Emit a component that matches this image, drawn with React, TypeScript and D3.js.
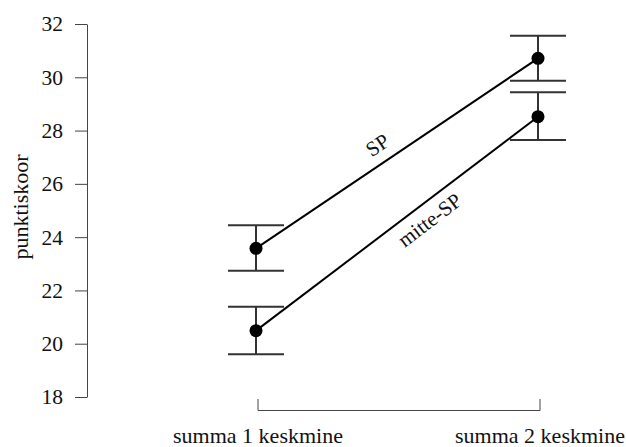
import React, { useEffect, useRef } from "react";
import * as d3 from "d3";

// categories on the x axis
const categories = ["summa 1 keskmine", "summa 2 keskmine"];
// SP series: mean and error bar bounds
const spMean = [23.58, 30.71];
const spLow = [22.74, 29.87];
const spHigh = [24.45, 31.56];
// mitte-SP series
const mitteMean = [20.49, 28.52];
const mitteLow = [19.6, 27.65];
const mitteHigh = [21.39, 29.44];
const yTicks = [18, 20, 22, 24, 26, 28, 30, 32];

const App = () => {
  const svgRef = useRef<SVGSVGElement>(null);
  const width = 626;
  const height = 447;

  useEffect(() => {
    const svg = d3.select(svgRef.current);
    svg.selectAll("*").remove();
    const font = "'Liberation Serif', 'Times New Roman', serif";

    const y = d3.scaleLinear().domain([18, 32]).range([397, 24]);
    const x = d3.scalePoint().domain(categories).range([256, 538]);

    // y axis
    const yAxis = svg.append("g").attr("transform", "translate(87,0)");
    yAxis.call(d3.axisLeft(y).tickValues(yTicks).tickSize(12).tickPadding(12).tickSizeOuter(0));
    yAxis.select(".domain").attr("stroke", "#444").attr("stroke-width", 1);
    yAxis.selectAll(".tick line").attr("stroke", "#444");
    yAxis
      .selectAll(".tick text")
      .attr("font-family", font)
      .attr("font-size", 21.5)
      .attr("fill", "#111");

    // x axis bracket
    const xAxis = svg.append("g").attr("transform", "translate(1.5,411)");
    xAxis.call(d3.axisBottom(x).tickSize(0).tickSizeOuter(12).tickPadding(16));
    xAxis.select(".domain").attr("stroke", "#444").attr("transform", "scale(1,-1)");
    xAxis
      .selectAll(".tick text")
      .attr("font-family", font)
      .attr("font-size", 22)
      .attr("fill", "#111");

    svg
      .append("text")
      .attr("transform", "translate(28,207) rotate(-90)")
      .attr("text-anchor", "middle")
      .attr("font-family", font)
      .attr("font-size", 22)
      .attr("fill", "#111")
      .text("punktiskoor");

    const series = [
      { name: "SP", mean: spMean, low: spLow, high: spHigh, t: 0.466, dy: -10.5 },
      { name: "mitte-SP", mean: mitteMean, low: mitteLow, high: mitteHigh, t: 0.58, dy: 24 },
    ];

    series.forEach((s) => {
      const g = svg.append("g");
      // error bars
      categories.forEach((c, i) => {
        const cx = x(c) as number;
        g.append("line")
          .attr("x1", cx).attr("x2", cx)
          .attr("y1", y(s.low[i])).attr("y2", y(s.high[i]))
          .attr("stroke", "#333").attr("stroke-width", 2);
        [s.low[i], s.high[i]].forEach((v) => {
          g.append("line")
            .attr("x1", cx - 28).attr("x2", cx + 28)
            .attr("y1", y(v)).attr("y2", y(v))
            .attr("stroke", "#333").attr("stroke-width", 2);
        });
      });
      const line = d3
        .line<number>()
        .x((_, i) => x(categories[i]) as number)
        .y((d) => y(d));
      g.append("path")
        .attr("d", line(s.mean))
        .attr("fill", "none")
        .attr("stroke", "#000")
        .attr("stroke-width", 2);
      g.selectAll("circle")
        .data(s.mean)
        .enter()
        .append("circle")
        .attr("cx", (_, i) => x(categories[i]) as number)
        .attr("cy", (d) => y(d))
        .attr("r", 6.5)
        .attr("fill", "#000");

      // rotated label along the line
      const x0 = x(categories[0]) as number;
      const x1 = x(categories[1]) as number;
      const angle = (Math.atan2(y(s.mean[1]) - y(s.mean[0]), x1 - x0) * 180) / Math.PI;
      const lx = x0 + (x1 - x0) * s.t;
      const ly = y(s.mean[0]) + (y(s.mean[1]) - y(s.mean[0])) * s.t;
      g.append("text")
        .attr("transform", `translate(${lx},${ly}) rotate(${angle})`)
        .attr("text-anchor", "middle")
        .attr("dy", s.dy)
        .attr("font-family", font)
        .attr("font-size", 21)
        .attr("fill", "#111")
        .text(s.name);
    });
  }, []);

  return (
    <div style={{ position: "absolute", left: 0, top: 0, background: "#fff" }}>
      <svg ref={svgRef} width={width} height={height} style={{ display: "block" }} />
    </div>
  );
};

export default App;
